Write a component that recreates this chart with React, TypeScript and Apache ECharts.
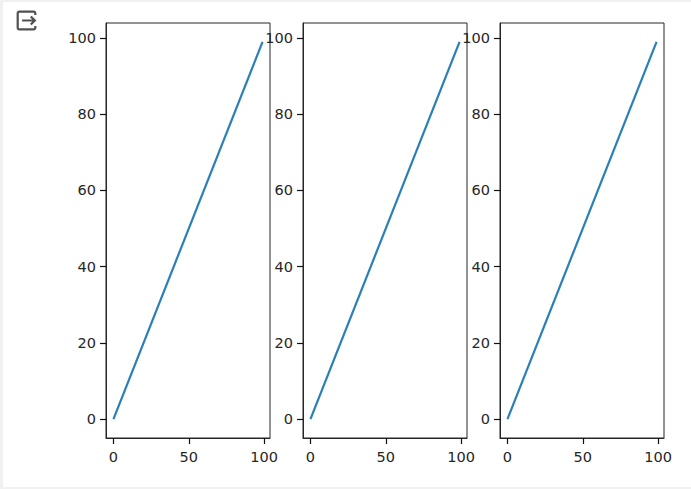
import React, { useEffect, useRef } from "react";
import * as echarts from "echarts";

const lineX = [0, 99];
const lineY = [0, 99];
const xTicks = [0, 50, 100];
const yTicks = [0, 20, 40, 60, 80, 100];
const xRange = [-4.95, 103.95];
const yRange = [-4.95, 103.95];
const panelLefts = [106, 303, 500];

const exitIcon =
  "M12 1H3.5C2.1 1 1 2.1 1 3.5V16.5C1 17.9 2.1 19 3.5 19H16.5C17.9 19 19 17.9 19 16.5V15H17V16.5C17 16.8 16.8 17 16.5 17H3.5C3.2 17 3 16.8 3 16.5V3.5C3 3.2 3.2 3 3.5 3H16.5C16.8 3 17 3.2 17 3.5V5H19V3.5C19 2.1 17.9 1 16.5 1ZM14.6 5.6L13.2 7L15.2 9H6V11H15.2L13.2 13L14.6 14.4L19 10Z";
echarts.graphic.registerShape("exitGlyph", echarts.graphic.extendPath(exitIcon as any, {}) as any);

const textColor = "#262626";
const fontFamily = "DejaVu Sans";
const axisColor = "#262626";

export default function App() {
  const ref = useRef<HTMLDivElement>(null);
  useEffect(() => {
    const chart = echarts.init(ref.current!, undefined, { renderer: "svg" });
    const pairs = lineX.map((x, i) => [x, lineY[i]]);
    chart.setOption({
      animation: false,
      backgroundColor: "#ffffff",
      graphic: [
        { type: "rect", z: -10, silent: true, shape: { x: 0, y: 0, width: 691, height: 2 }, style: { fill: "#f1f1f1" } },
        { type: "rect", z: -10, silent: true, shape: { x: 0, y: 0, width: 3, height: 489 }, style: { fill: "#f1f1f1" } },
        { type: "rect", z: -10, silent: true, shape: { x: 0, y: 487, width: 691, height: 2 }, style: { fill: "#f1f1f1" } },
        { type: "exitGlyph", x: 15.5, y: 9.5, scaleX: 1.1, scaleY: 1.1, silent: true, style: { fill: "#505050" } },
      ],
      grid: panelLefts.map((left) => ({
        left,
        top: 23,
        width: 164,
        height: 415,
        show: true,
        borderColor: axisColor,
        borderWidth: 1,
        containLabel: false,
      })),
      xAxis: panelLefts.map((_, i) => ({
        type: "value",
        gridIndex: i,
        min: xRange[0],
        max: xRange[1],
        splitLine: { show: false },
        axisLine: { show: true, onZero: false, lineStyle: { color: axisColor, width: 1 } },
        axisTick: { show: true, inside: false, length: 6, customValues: xTicks, lineStyle: { color: "#111111", width: 1.2 } },
        axisLabel: { show: true, customValues: xTicks, hideOverlap: false, margin: 11, fontSize: 14.5, color: textColor, fontFamily },
      })),
      yAxis: panelLefts.map((_, i) => ({
        type: "value",
        gridIndex: i,
        min: yRange[0],
        max: yRange[1],
        splitLine: { show: false },
        axisLine: { show: true, onZero: false, lineStyle: { color: axisColor, width: 1 } },
        axisTick: { show: true, inside: false, length: 6, customValues: yTicks, lineStyle: { color: "#111111", width: 1.2 } },
        axisLabel: { show: true, customValues: yTicks, hideOverlap: false, margin: 10, fontSize: 14.5, color: textColor, fontFamily },
      })),
      series: panelLefts.map((_, i) => ({
        type: "line",
        xAxisIndex: i,
        yAxisIndex: i,
        data: pairs,
        showSymbol: false,
        symbol: "none",
        lineStyle: { color: "#2a7fb8", width: 2.2 },
      })),
    });
    return () => chart.dispose();
  }, []);
  return <div ref={ref} style={{ position: "fixed", left: 0, top: 0, width: 691, height: 489 }} />;
}
